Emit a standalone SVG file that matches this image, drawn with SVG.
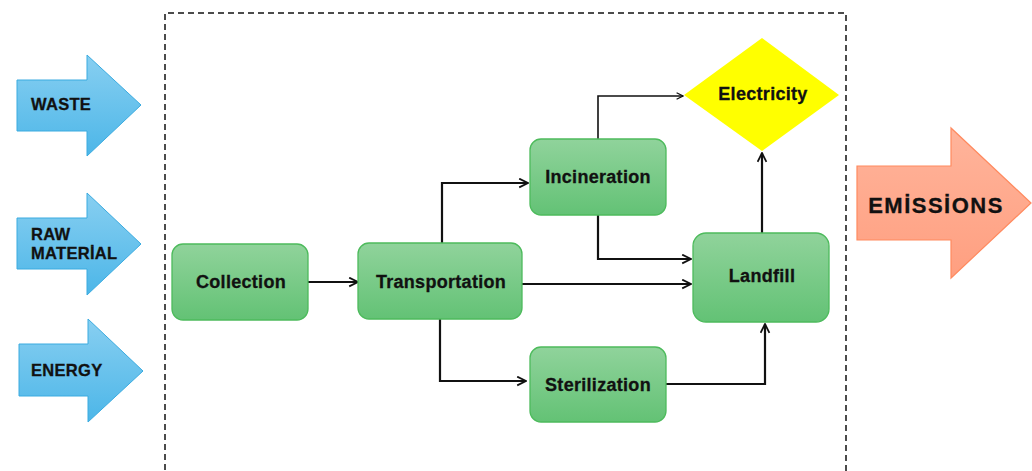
<svg xmlns="http://www.w3.org/2000/svg" width="1032" height="471" viewBox="0 0 1032 471">
<style>
.node{stroke:#4dbb5c;stroke-width:1.3;fill:url(#gGreen)}
.lbl{font-family:"Liberation Sans",Arial,sans-serif;font-weight:bold;fill:#111;stroke:#111;stroke-width:0.3;text-anchor:middle;dominant-baseline:central}
.n{font-size:18px;letter-spacing:0.3px}
.in{font-family:"Liberation Sans",Arial,sans-serif;font-weight:bold;fill:#111;stroke:#111;stroke-width:0.3;font-size:16.5px;letter-spacing:0.3px;dominant-baseline:central}
.conn{fill:none;stroke:#111;stroke-width:2.2;marker-end:url(#arr)}
.blue{fill:url(#gBlue);stroke:#3aabe0;stroke-width:1}
</style>
<defs>
<linearGradient id="gGreen" x1="0" y1="0" x2="0" y2="1">
<stop offset="0" stop-color="#90d39b"/><stop offset="1" stop-color="#63c275"/>
</linearGradient>
<linearGradient id="gBlue" x1="0" y1="0" x2="0" y2="1">
<stop offset="0" stop-color="#88cff1"/><stop offset="1" stop-color="#4cb6e8"/>
</linearGradient>
<linearGradient id="gOrange" x1="0" y1="0" x2="0" y2="1">
<stop offset="0" stop-color="#ffb49b"/><stop offset="1" stop-color="#ff9f80"/>
</linearGradient>
<marker id="arr" viewBox="0 0 10 10" refX="9" refY="5" markerWidth="5" markerHeight="5" markerUnits="strokeWidth" orient="auto">
<path d="M1,1 L9,5 L1,9" fill="none" stroke="#111" stroke-width="1.6"/>
</marker>
</defs>
<rect x="0" y="0" width="1032" height="471" fill="#fff"/>
<path d="M165,480 V13 H846 V480" fill="none" stroke="#111" stroke-width="1.5" stroke-dasharray="6,4"/>

<g id="in-waste">
<polygon class="blue" points="17,80 87,80 87,55 141,105 87,156 87,131 17,131"/>
<text class="in" x="31" y="104">WASTE</text>
</g>
<g id="in-raw">
<polygon class="blue" points="17,218 87,218 87,193 141,244 87,295 87,269 17,269"/>
<text class="in" x="31" y="234">RAW</text>
<text class="in" x="31" y="253">MATERİAL</text>
</g>
<g id="in-energy">
<polygon class="blue" points="19,344 88,344 88,319 143,371 88,422 88,396 19,396"/>
<text class="in" x="31" y="370">ENERGY</text>
</g>
<g id="out-emissions">
<polygon fill="url(#gOrange)" stroke="#ff8a5f" stroke-width="1.2" points="857,166 951,166 951,128 1031,203 951,278 951,240 857,240"/>
<text class="lbl" x="936" y="205" style="font-size:22px;letter-spacing:1.5px">EMİSSİONS</text>
</g>

<g id="connectors">
<path class="conn" d="M308,282 H358"/>
<path class="conn" d="M442,243 V183 H528"/>
<path class="conn" d="M440,319 V381 H526"/>
<path class="conn" d="M522,284 H691"/>
<path class="conn" d="M598,215 V259 H691"/>
<path class="conn" d="M598,139 V96 H683" style="stroke-width:1.6"/>
<path class="conn" d="M762,233 V153"/>
<path class="conn" d="M666,384 H765 V324"/>
</g>

<g id="collection">
<rect class="node" x="172" y="244" width="136" height="76" rx="11"/>
<text class="lbl n" x="241" y="282">Collection</text>
</g>
<g id="transportation">
<rect class="node" x="358" y="243" width="164" height="76" rx="11"/>
<text class="lbl n" x="441" y="282">Transportation</text>
</g>
<g id="incineration">
<rect class="node" x="530" y="139" width="136" height="76" rx="11"/>
<text class="lbl n" x="598" y="177">Incineration</text>
</g>
<g id="sterilization">
<rect class="node" x="530" y="347" width="136" height="75" rx="11"/>
<text class="lbl n" x="598" y="385">Sterilization</text>
</g>
<g id="landfill">
<rect class="node" x="693" y="233" width="136" height="89" rx="13"/>
<text class="lbl n" x="762" y="276">Landfill</text>
</g>
<g id="electricity">
<polygon fill="#ffff00" points="684,95 762,38 839,95 762,151"/>
<text class="lbl n" x="763" y="94">Electricity</text>
</g>
</svg>
